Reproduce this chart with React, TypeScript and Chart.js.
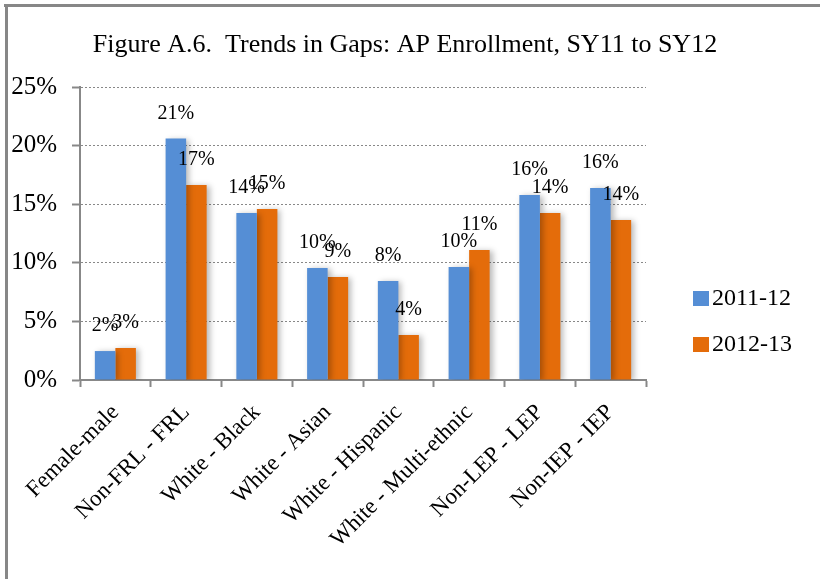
import React, { useEffect, useRef } from "react";
import { Chart, registerables } from "chart.js";

Chart.register(...registerables);

const categories = [
  "Female-male",
  "Non-FRL - FRL",
  "White - Black",
  "White - Asian",
  "White - Hispanic",
  "White - Multi-ethnic",
  "Non-LEP - LEP",
  "Non-IEP - IEP",
];
const series2011 = [2.47, 20.6, 14.25, 9.56, 8.45, 9.64, 15.78, 16.38];
const series2012 = [2.73, 16.64, 14.59, 8.79, 3.84, 11.09, 14.25, 13.65];
const seriesLabels = ["2011-12", "2012-13"];
const seriesColors = ["#558ED5", "#E46C0A"];
const yMin = 0;
const yMax = 25;
const yStep = 5;
const titleText = "Figure A.6.  Trends in Gaps: AP Enrollment, SY11 to SY12";

const FONT = "'Liberation Serif', serif";

const decorPlugin = {
  id: "decor",
  beforeDraw(chart: any) {
    const { ctx, width, height } = chart;
    ctx.save();
    ctx.fillStyle = "#ffffff";
    ctx.fillRect(0, 0, width, height);
    ctx.strokeStyle = "#878787";
    ctx.lineWidth = 3;
    ctx.beginPath();
    ctx.moveTo(4, 5.5);
    ctx.lineTo(width, 5.5);
    ctx.moveTo(6.5, 4);
    ctx.lineTo(6.5, height);
    ctx.stroke();
    ctx.restore();
  },
  beforeDatasetsDraw(chart: any) {
    const ctx = chart.ctx;
    ctx.save();
    ctx.shadowColor = "rgba(0,0,0,0.28)";
    ctx.shadowBlur = 6;
    ctx.shadowOffsetX = 3;
    ctx.shadowOffsetY = 1;
  },
  afterDatasetsDraw(chart: any) {
    const ctx = chart.ctx;
    ctx.restore();
    ctx.save();
    ctx.fillStyle = "#000";
    ctx.font = `20px ${FONT}`;
    ctx.textAlign = "center";
    ctx.textBaseline = "middle";
    chart.data.datasets.forEach((ds: any, di: number) => {
      const meta = chart.getDatasetMeta(di);
      meta.data.forEach((bar: any, i: number) => {
        const v = ds.data[i];
        ctx.fillText(Math.round(v) + "%", bar.x, bar.y - 25);
      });
    });
    ctx.restore();
  },
  afterDraw(chart: any) {
    const ctx = chart.ctx;
    ctx.save();
    ctx.fillStyle = "#000";
    ctx.font = `26px ${FONT}`;
    ctx.textAlign = "center";
    ctx.textBaseline = "middle";
    ctx.fillText(titleText, 405, 45);
    // legend
    ctx.font = `24px ${FONT}`;
    ctx.textAlign = "left";
    chart.data.datasets.forEach((ds: any, di: number) => {
      const cy = 298 + di * 46;
      ctx.fillStyle = ds.backgroundColor;
      ctx.fillRect(693, cy - 7, 16, 15);
      ctx.fillStyle = "#000";
      ctx.fillText(ds.label, 712, cy + 1);
    });
    ctx.restore();
  },
};

export default function App() {
  const ref = useRef<HTMLCanvasElement | null>(null);
  useEffect(() => {
    if (!ref.current) return;
    const chart = new Chart(ref.current, {
      type: "bar",
      data: {
        labels: categories,
        datasets: [
          {
            label: seriesLabels[0],
            data: series2011,
            backgroundColor: seriesColors[0],
            categoryPercentage: 0.58,
            barPercentage: 1,
          },
          {
            label: seriesLabels[1],
            data: series2012,
            backgroundColor: seriesColors[1],
            categoryPercentage: 0.58,
            barPercentage: 1,
          },
        ],
      },
      options: {
        animation: false,
        responsive: false,
        maintainAspectRatio: false,
        layout: { padding: { left: 0, right: 174, top: 87, bottom: 0 } },
        plugins: {
          legend: { display: false },
          title: { display: false },
          tooltip: { enabled: false },
        },
        scales: {
          x: {
            afterFit: (s: any) => {
              s.height = 199;
            },
            grid: {
              display: true,
              drawOnChartArea: false,
              drawTicks: true,
              tickLength: 7,
              color: "#888",
              tickWidth: 2,
              offset: true,
            },
            border: { display: true, color: "#888", width: 2 },
            ticks: {
              autoSkip: false,
              maxRotation: 45,
              minRotation: 45,
              padding: 12,
              color: "#000",
              font: { family: FONT, size: 23 },
            },
          },
          y: {
            min: yMin,
            max: yMax,
            afterFit: (s: any) => {
              s.width = 80;
            },
            grid: {
              color: "#888",
              lineWidth: 1,
              tickLength: 8,
              tickWidth: 2,
              tickBorderDash: [],
            },
            border: { display: true, color: "#888", width: 2, dash: [2, 2] },
            ticks: {
              stepSize: yStep,
              padding: 15,
              color: "#000",
              font: { family: FONT, size: 25 },
              callback: (v: any) => v + "%",
            },
          },
        },
      },
      plugins: [decorPlugin],
    });
    return () => chart.destroy();
  }, []);
  return (
    <div style={{ position: "absolute", left: 0, top: 0, width: 820, height: 579 }}>
      <canvas ref={ref} width={820} height={579} style={{ width: 820, height: 579, display: "block" }} />
    </div>
  );
}
